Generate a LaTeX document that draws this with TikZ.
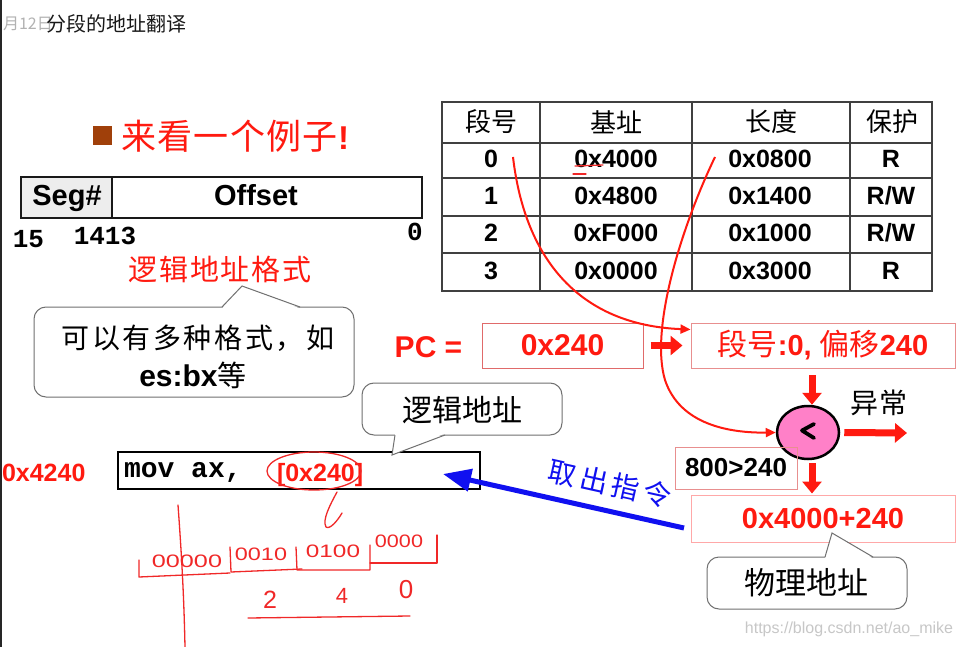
\documentclass[tikz,border=0pt]{standalone}
\usepackage{fontspec}
\setmainfont{Liberation Sans}
\newfontfamily\cjk{Noto Sans CJK SC}
\newfontfamily\monof{Liberation Mono}
\usetikzlibrary{arrows.meta,shapes.geometric}
\definecolor{rd}{HTML}{FF1A10}
\definecolor{hand}{HTML}{F02828}
\definecolor{boxrd}{HTML}{E06A6A}
\definecolor{boxpk}{HTML}{FFA8A8}
\definecolor{pinkfill}{HTML}{FF80C8}
\definecolor{bl}{HTML}{1010F0}
\definecolor{bubg}{HTML}{707070}
\definecolor{brn}{HTML}{A0400A}
\newcommand\zh[3]{{\cjk\fontsize{#1}{#1}\selectfont\addfontfeatures{LetterSpace=#2}#3}}
\newcommand\fs[1]{\fontsize{#1}{#1}\selectfont}
\tikzset{
  txt/.style={inner sep=0pt, outer sep=0pt},
  redbox/.style={draw=boxrd, line width=1pt, inner sep=0pt, fill=white},
  bubble/.style={draw=bubg, line width=1pt, fill=white, rounded corners=12pt},
  bubtip/.style={draw=bubg, line width=1pt},
  handln/.style={draw=hand, line width=1.3pt, line cap=round, line join=round},
  curvearrow/.style={draw=rd, line width=2pt, -{Triangle[length=10pt,width=9pt]}},
  fatarrow/.style={draw=rd, line width=7pt, -{Triangle[length=12pt,width=19pt]}},
  tabline/.style={draw=black!75, line width=1.5pt},
  celltxt/.style={txt, font=\fs{25}\bfseries},
}
\begin{document}
\begin{tikzpicture}[x=1pt, y=-1pt]
\useasboundingbox (0,0) rectangle (961,647);
\fill[white] (0,0) rectangle (961,647);

% title
\node[txt, anchor=west, text=black!30] (date) at (3,24) {\zh{16}{0}{月12日}};
\node[txt, anchor=west, text=black!90] (title) at (46,24) {\zh{20}{0}{分段的地址翻译}};
\draw[line width=2pt, black!85] (1,0) -- (1,647);

% bullet
\fill[brn] (93,126) rectangle (112,145);
\node[txt, anchor=west, text=rd] (example) at (121,136) {\zh{35}{4}{来看一个例子}{\fs{33}\bfseries !}};

% seg / offset box
\node[draw=black!90, line width=2.5pt, fill=black!7, minimum width=91pt, minimum height=41pt, inner sep=0pt] (seg) at (66.5,197.5) {};
\node[draw=black!90, line width=2.5pt, fill=white, minimum width=310pt, minimum height=41pt, inner sep=0pt] (off) at (267,197.5) {};
\node[txt, anchor=base, font=\fs{29}\bfseries] (segt) at (67,205.5) {Seg\#};
\node[txt, anchor=base, font=\fs{29}\bfseries] (offt) at (256,205.5) {Offset};
\node[txt, font=\monof\fs{26}\bfseries] (b15) at (28.5,239) {15};
\node[txt, font=\monof\fs{26}\bfseries] (b1413) at (105,236) {1413};
\node[txt, font=\monof\fs{26}\bfseries] (b0) at (415,232) {0};

\node[txt, text=rd] (fmt) at (220,269) {\zh{29}{6}{逻辑地址格式}};

% bubble 1
\draw[bubble] (34,307) rectangle (354,397);
\fill[white] (222,308.5) -- (242,286) -- (300,308.5) -- cycle;
\draw[bubtip] (222,307) -- (242,286) -- (300,307);
\node[txt] (b1a) at (198,338) {\zh{28}{9}{可以有多种格式，如}};
\node[txt] (b1b) at (193,375) {{\fs{30}\bfseries es:bx}\zh{29}{0}{等}};

% table
\foreach \yy in {102,143,178,216,253,291} \draw[tabline] (441,\yy) -- (933,\yy);
\foreach \xx in {442,540,692,850,932} \draw[tabline] (\xx,101) -- (\xx,292);
\node[txt] (h1) at (491,122) {\zh{26}{0}{段号}};
\node[txt] (h2) at (616,122) {\zh{26}{0}{基址}};
\node[txt] (h3) at (771,122) {\zh{26}{0}{长度}};
\node[txt] (h4) at (892,122) {\zh{26}{0}{保护}};
\node[celltxt] (r0a) at (491,159) {0};
\node[celltxt] (r0b) at (616,159) {0x4000};
\node[celltxt] (r0c) at (770,159) {0x0800};
\node[celltxt] (r0d) at (891,159) {R};
\node[celltxt] (r1a) at (491,196) {1};
\node[celltxt] (r1b) at (616,196) {0x4800};
\node[celltxt] (r1c) at (770,196) {0x1400};
\node[celltxt] (r1d) at (891,196) {R/W};
\node[celltxt] (r2a) at (491,233) {2};
\node[celltxt] (r2b) at (616,233) {0xF000};
\node[celltxt] (r2c) at (770,233) {0x1000};
\node[celltxt] (r2d) at (891,233) {R/W};
\node[celltxt] (r3a) at (491,271) {3};
\node[celltxt] (r3b) at (616,271) {0x0000};
\node[celltxt] (r3c) at (770,271) {0x3000};
\node[celltxt] (r3d) at (891,271) {R};
\draw[handln] (575,166) -- (603,165);
\draw[handln] (573,174) -- (586,174);

% PC row
\node[txt, text=rd, font=\fs{30}\bfseries] (pc) at (428.5,347) {PC =};
\node[redbox, minimum width=161pt, minimum height=45pt, text=rd, font=\fs{30}\bfseries] (pcval) at (562.5,345.5) {0x240};
\node[redbox, draw=boxrd!75, minimum width=264pt, minimum height=45pt, text=rd] (segoff) at (823,345.5)
  {\zh{30}{0}{段号}{\fs{29}\bfseries :0,\ }\zh{30}{0}{偏移}{\fs{29}\bfseries 240}};
\draw[fatarrow] ([xshift=7pt]pcval.east) -- ([xshift=-8pt]segoff.west);

% comparator
\node[ellipse, draw=black, line width=2.5pt, fill=pinkfill, minimum width=62pt, minimum height=53pt, inner sep=0pt] (cmp) at (808,432.5) {};
\draw[line width=3.8pt, line cap=round, line join=round] (814,424) -- (802,430.5) -- (814,438);
\coordinate (a1) at (812,375);
\draw[fatarrow] (a1) -- (a1 |- cmp.north);
\coordinate (exc) at (907,433);
\draw[fatarrow] ([xshift=4pt]cmp.east) -- (exc);
\node[txt] (exctxt) at (879,403) {\zh{28}{2}{异常}};

% curves from table
\coordinate (ca) at (513,157);
\coordinate (cb) at (715,157);
\draw[curvearrow] (ca) .. controls (525,260) and (580,325) .. ([yshift=16pt]segoff.west);
\draw[curvearrow] (cb) .. controls (680,230) and (650,330) .. (665,380) .. controls (680,425) and (730,433) .. (cmp.west);

% length box
\node[redbox, draw=boxrd!75, fill=none, minimum width=122pt, minimum height=42pt, font=\fs{26}\bfseries] (lenbox) at (736,468) {800>240};

% physical address
\node[redbox, draw=boxpk, minimum width=264pt, minimum height=47pt, text=rd, font=\fs{29}\bfseries] (phys) at (823,518.5) {0x4000+240};
\coordinate (a2) at (812,463);
\draw[fatarrow] (a2) -- ([yshift=1pt]a2 |- phys.north);
\draw[bubble] (707,557) rectangle (907,609);
\fill[white] (825,558.5) -- (832,533) -- (873,558.5) -- cycle;
\draw[bubtip] (825,557) -- (832,533) -- (873,557);
\node[txt] (phystag) at (806,583) {\zh{31}{0}{物理地址}};

% instruction box
\node[draw=black, line width=2.5pt, minimum width=362pt, minimum height=37pt, inner sep=0pt] (movbox) at (299,470.5) {};
\node[txt, anchor=base west, font=\monof\fs{28}\bfseries] (movtxt) at (124,477.5) {mov ax,};
\node[txt, anchor=base west, text=rd, font=\fs{25}\bfseries] (opnd) at (277,481) {[0x240]};
\node[txt, anchor=base west, text=rd, font=\fs{25}\bfseries] (addr) at (2,481) {0x4240};

% logical address bubble
\draw[bubble] (362,383) rectangle (562,435);
\fill[white] (395,433.5) -- (392,455) -- (445,433.5) -- cycle;
\draw[bubtip] (395,435) -- (392,455) -- (445,435);
\node[txt] (logtag) at (462,410) {\zh{30}{0}{逻辑地址}};

% fetch arrow
\coordinate (bstart) at (684,528);
\coordinate (btip) at (443,474);
\draw[draw=bl, line width=5pt, -{Triangle[length=28pt,width=22pt]}] (bstart) -- (btip);
\node[txt, text=bl, rotate=-12.5] (fetch) at (610,484) {\zh{28}{15}{取出指令}};

% hand annotations
\draw[handln] (314,471) ellipse [x radius=47, y radius=19];
\draw[handln] (337,492) .. controls (330,505) and (322,520) .. (326,527) .. controls (330,530) and (338,520) .. (342,513);
\draw[handln] (178,505) .. controls (182,560) and (184,600) .. (185,647);
\draw[handln] (139,560) -- (139,577) -- (230,573);
\draw[handln] (230,547) -- (231,572) -- (302,569);
\draw[handln] (296,547) -- (297,570) -- (370,570) -- (370,545);
\draw[handln] (370,563) -- (437,563) -- (437,535);
\node[txt, text=hand, font=\fs{18}, xscale=1.4, transform shape] (g1) at (187,561) {00000};
\node[txt, text=hand, font=\fs{18}, xscale=1.3, transform shape] (g2) at (261,554) {0010};
\node[txt, text=hand, font=\fs{18}, xscale=1.35, transform shape] (g3) at (333,551) {0100};
\node[txt, text=hand, font=\fs{18}, xscale=1.2, transform shape] (g4) at (399,541) {0000};
\node[txt, text=hand, font=\fs{25}] (d2) at (270,600) {2};
\node[txt, text=hand, font=\fs{22}] (d4) at (342,596) {4};
\node[txt, text=hand, font=\fs{26}] (d0) at (406,590) {0};
\draw[handln] (248,618) -- (410,616);

% watermark
\node[txt, text=black!22, font=\fs{16}] (wm) at (849,629) {https://blog.csdn.net/ao\_mike};
\end{tikzpicture}
\end{document}
